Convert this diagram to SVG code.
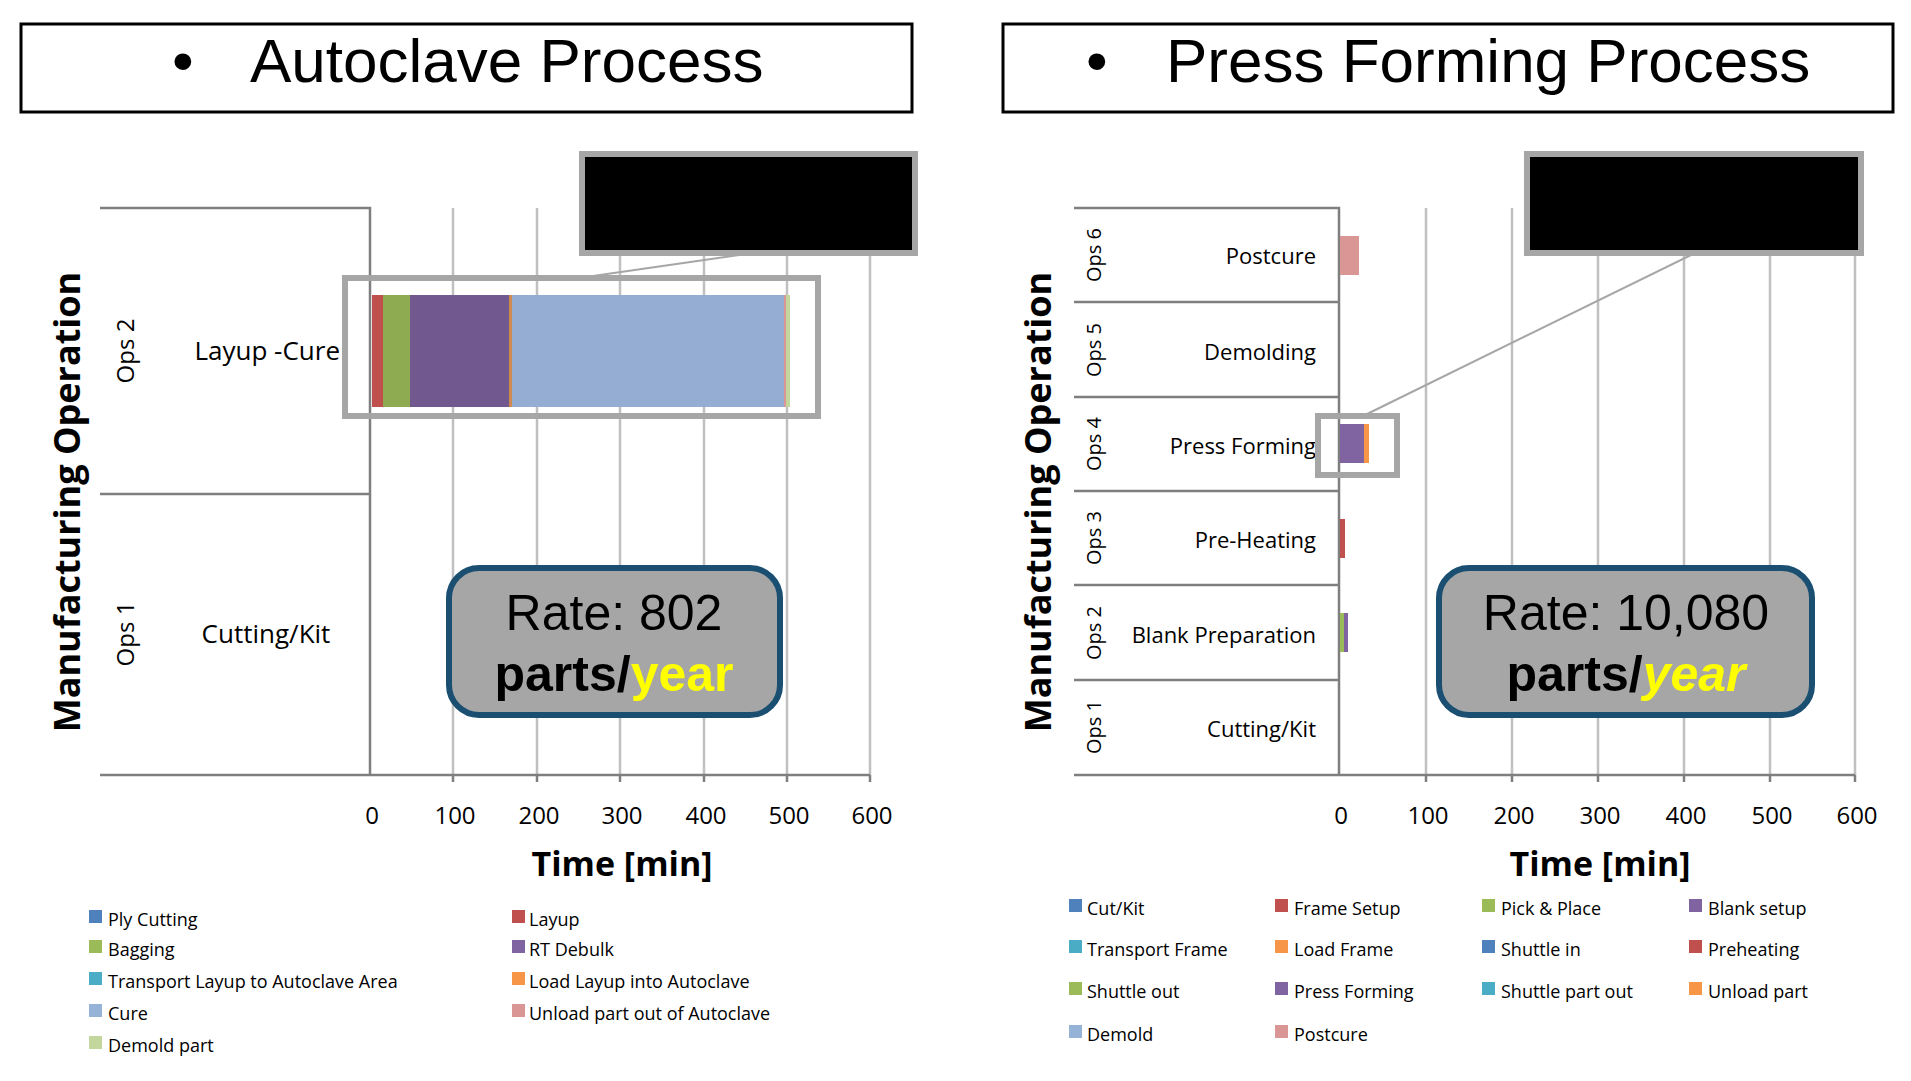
<svg xmlns="http://www.w3.org/2000/svg" width="1911" height="1081" viewBox="0 0 1911 1081">
<style>
.title{font-family:"Liberation Sans",Arial,sans-serif;font-size:62px;fill:#000}
.tbox{fill:#fff;stroke:#000;stroke-width:3}
.ax{stroke:#7f7f7f;stroke-width:2.5;fill:none}
.grid{stroke:#c0c0c0;stroke-width:2.5}
.t{font-family:"Open Sans","Noto Sans",sans-serif;fill:#000}
.tick{font-family:"Open Sans","Noto Sans",sans-serif;font-size:24px;text-anchor:middle}
.xt{font-family:"Open Sans","Noto Sans",sans-serif;font-size:34px;font-weight:bold;text-anchor:middle}
.yt{font-family:"Open Sans","Noto Sans",sans-serif;font-size:36px;font-weight:bold;text-anchor:middle}
.ops{font-family:"Open Sans","Noto Sans",sans-serif;font-size:24px;text-anchor:middle}
.lab{font-family:"Open Sans","Noto Sans",sans-serif;font-size:26px}
.lab2{font-family:"Open Sans","Noto Sans",sans-serif;font-size:22px;text-anchor:end}
.leg{font-family:"Open Sans","Noto Sans",sans-serif;font-size:18px}
.hl{fill:none;stroke:#a6a6a6;stroke-width:6}
.blk{fill:#000;stroke:#a6a6a6;stroke-width:6}
.con{stroke:#a6a6a6;stroke-width:2}
.rate{fill:#a6a6a6;stroke:#1b4f72;stroke-width:6}
.r1{font-family:"Liberation Sans",Arial,sans-serif;font-size:50px;text-anchor:middle}
.r2{font-family:"Liberation Sans",Arial,sans-serif;font-size:50px;font-weight:bold;text-anchor:middle}
</style>

<g id="left-title"><rect class="tbox" x="21" y="24" width="891" height="88"/><text class="title" x="172" y="82">•</text><text class="title" x="250" y="82">Autoclave Process</text></g>

<g id="left-chart">
<g class="grid"><line x1="453" y1="208" x2="453" y2="775"/><line x1="537" y1="208" x2="537" y2="775"/><line x1="620" y1="208" x2="620" y2="775"/><line x1="704" y1="208" x2="704" y2="775"/><line x1="787" y1="208" x2="787" y2="775"/><line x1="870" y1="208" x2="870" y2="775"/></g>
<path class="ax" d="M100 208H370V775M100 494H370M100 775H870"/>
<g class="ax"><line x1="453" y1="775" x2="453" y2="782"/><line x1="537" y1="775" x2="537" y2="782"/><line x1="620" y1="775" x2="620" y2="782"/><line x1="704" y1="775" x2="704" y2="782"/><line x1="787" y1="775" x2="787" y2="782"/><line x1="870" y1="775" x2="870" y2="782"/></g>
<g class="tick"><text x="372" y="824">0</text><text x="455" y="824">100</text><text x="539" y="824">200</text><text x="622" y="824">300</text><text x="706" y="824">400</text><text x="789" y="824">500</text><text x="872" y="824">600</text></g>
<text class="xt" x="622" y="876">Time [min]</text>
<text class="yt" transform="translate(80,502) rotate(-90)">Manufacturing Operation</text>
<text class="ops" transform="translate(134,351) rotate(-90)">Ops 2</text>
<text class="ops" transform="translate(134,634) rotate(-90)">Ops 1</text>
<text class="lab" x="340" y="360" text-anchor="end">Layup -Cure</text>
<text class="lab" x="266" y="643" text-anchor="middle">Cutting/Kit</text>
<g id="bar-ops2">
<rect x="372" y="295" width="11" height="112" fill="#c0504d"/>
<rect x="383" y="295" width="27" height="112" fill="#8fab52"/>
<rect x="410" y="295" width="99" height="112" fill="#71588f"/>
<rect x="509" y="295" width="3" height="112" fill="#cf8a4f"/>
<rect x="512" y="295" width="272" height="112" fill="#95acd3"/>
<rect x="784" y="295" width="2" height="112" fill="#d99694"/>
<rect x="786" y="295" width="4" height="112" fill="#c3d69b"/>
</g>
</g>
<g id="left-zoom"><line class="con" x1="746" y1="254" x2="579" y2="278"/><rect class="hl" x="345" y="278" width="473" height="138"/><rect class="blk" x="582" y="154" width="333" height="99"/></g>
<g id="left-rate"><rect class="rate" x="449" y="568" width="331" height="147" rx="30"/><text class="r1" x="614" y="630">Rate: 802</text><text class="r2" x="614" y="691">parts/<tspan fill="#ffff00">year</tspan></text></g>
<g id="left-legend" class="leg">
<rect x="89" y="910" width="13" height="13" fill="#4f81bd"/><text x="108" y="926">Ply Cutting</text>
<rect x="89" y="940" width="13" height="13" fill="#9bbb59"/><text x="108" y="956">Bagging</text>
<rect x="89" y="972" width="13" height="13" fill="#4bacc6"/><text x="108" y="988">Transport Layup to Autoclave Area</text>
<rect x="89" y="1004" width="13" height="13" fill="#95b3d7"/><text x="108" y="1020">Cure</text>
<rect x="89" y="1036" width="13" height="13" fill="#c3d69b"/><text x="108" y="1052">Demold part</text>
<rect x="512" y="910" width="13" height="13" fill="#c0504d"/><text x="529" y="926">Layup</text>
<rect x="512" y="940" width="13" height="13" fill="#8064a2"/><text x="529" y="956">RT Debulk</text>
<rect x="512" y="972" width="13" height="13" fill="#f79646"/><text x="529" y="988">Load Layup into Autoclave</text>
<rect x="512" y="1004" width="13" height="13" fill="#d99694"/><text x="529" y="1020">Unload part out of Autoclave</text>
</g>

<g id="right-title"><rect class="tbox" x="1003" y="24" width="890" height="88"/><text class="title" x="1086" y="82">•</text><text class="title" x="1166" y="82">Press Forming Process</text></g>

<g id="right-chart">
<g class="grid"><line x1="1426" y1="208" x2="1426" y2="775"/><line x1="1512" y1="208" x2="1512" y2="775"/><line x1="1598" y1="208" x2="1598" y2="775"/><line x1="1684" y1="208" x2="1684" y2="775"/><line x1="1770" y1="208" x2="1770" y2="775"/><line x1="1855" y1="208" x2="1855" y2="775"/></g>
<path class="ax" d="M1074 208H1339V775M1074 302H1339M1074 397H1339M1074 491H1339M1074 585H1339M1074 680H1339M1074 775H1855"/>
<g class="ax"><line x1="1426" y1="775" x2="1426" y2="782"/><line x1="1512" y1="775" x2="1512" y2="782"/><line x1="1598" y1="775" x2="1598" y2="782"/><line x1="1684" y1="775" x2="1684" y2="782"/><line x1="1770" y1="775" x2="1770" y2="782"/><line x1="1855" y1="775" x2="1855" y2="782"/></g>
<g class="tick"><text x="1341" y="824">0</text><text x="1428" y="824">100</text><text x="1514" y="824">200</text><text x="1600" y="824">300</text><text x="1686" y="824">400</text><text x="1772" y="824">500</text><text x="1857" y="824">600</text></g>
<text class="xt" x="1600" y="876">Time [min]</text>
<text class="yt" transform="translate(1051,502) rotate(-90)">Manufacturing Operation</text>
<g class="ops" style="font-size:20px">
<text transform="translate(1101,255) rotate(-90)">Ops 6</text>
<text transform="translate(1101,350) rotate(-90)">Ops 5</text>
<text transform="translate(1101,444) rotate(-90)">Ops 4</text>
<text transform="translate(1101,538) rotate(-90)">Ops 3</text>
<text transform="translate(1101,633) rotate(-90)">Ops 2</text>
<text transform="translate(1101,727) rotate(-90)">Ops 1</text>
</g>
<g class="lab2">
<text x="1316" y="264">Postcure</text>
<text x="1316" y="360">Demolding</text>
<text x="1316" y="454">Press Forming</text>
<text x="1316" y="548">Pre-Heating</text>
<text x="1316" y="643">Blank Preparation</text>
<text x="1316" y="737">Cutting/Kit</text>
</g>
<rect x="1340" y="236" width="19" height="39" fill="#d99694"/>
<rect x="1340" y="424" width="24" height="39" fill="#8064a2"/>
<rect x="1364" y="424" width="5" height="39" fill="#f79646"/>
<rect x="1340" y="519" width="5" height="39" fill="#c0504d"/>
<rect x="1340" y="613" width="4" height="39" fill="#9bbb59"/>
<rect x="1344" y="613" width="4" height="39" fill="#8064a2"/>
</g>
<g id="right-zoom"><line class="con" x1="1693" y1="254" x2="1363" y2="416"/><rect class="hl" x="1318" y="416" width="79" height="59"/><rect class="blk" x="1527" y="154" width="334" height="99"/></g>
<g id="right-rate"><rect class="rate" x="1439" y="568" width="373" height="147" rx="30"/><text class="r1" x="1626" y="630">Rate: 10,080</text><text class="r2" x="1626" y="691">parts/<tspan fill="#ffff00" font-style="italic">year</tspan></text></g>
<g id="right-legend" class="leg">
<rect x="1069" y="899" width="13" height="13" fill="#4f81bd"/><text x="1087" y="915">Cut/Kit</text>
<rect x="1069" y="940" width="13" height="13" fill="#4bacc6"/><text x="1087" y="956">Transport Frame</text>
<rect x="1069" y="982" width="13" height="13" fill="#9bbb59"/><text x="1087" y="998">Shuttle out</text>
<rect x="1069" y="1025" width="13" height="13" fill="#95b3d7"/><text x="1087" y="1041">Demold</text>
<rect x="1275" y="899" width="13" height="13" fill="#c0504d"/><text x="1294" y="915">Frame Setup</text>
<rect x="1275" y="940" width="13" height="13" fill="#f79646"/><text x="1294" y="956">Load Frame</text>
<rect x="1275" y="982" width="13" height="13" fill="#8064a2"/><text x="1294" y="998">Press Forming</text>
<rect x="1275" y="1025" width="13" height="13" fill="#d99694"/><text x="1294" y="1041">Postcure</text>
<rect x="1482" y="899" width="13" height="13" fill="#9bbb59"/><text x="1501" y="915">Pick &amp; Place</text>
<rect x="1482" y="940" width="13" height="13" fill="#4f81bd"/><text x="1501" y="956">Shuttle in</text>
<rect x="1482" y="982" width="13" height="13" fill="#4bacc6"/><text x="1501" y="998">Shuttle part out</text>
<rect x="1689" y="899" width="13" height="13" fill="#8064a2"/><text x="1708" y="915">Blank setup</text>
<rect x="1689" y="940" width="13" height="13" fill="#c0504d"/><text x="1708" y="956">Preheating</text>
<rect x="1689" y="982" width="13" height="13" fill="#f79646"/><text x="1708" y="998">Unload part</text>
</g>
</svg>
